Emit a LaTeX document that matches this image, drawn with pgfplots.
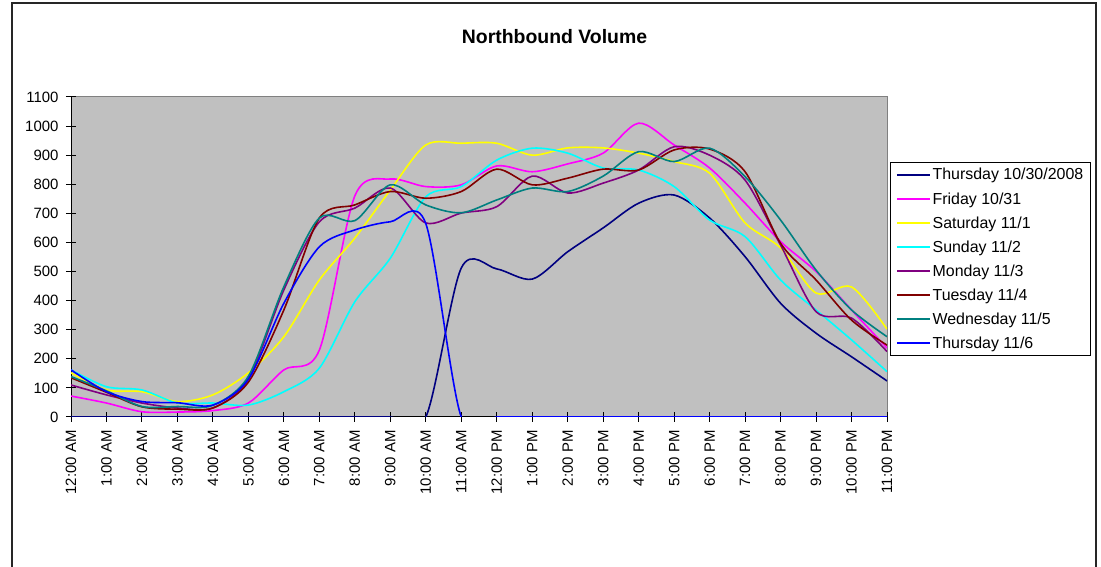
\documentclass[border=0pt]{standalone}
\usepackage{pgfplots}
\pgfplotsset{compat=1.18}
\usepackage{pgfplotstable}
\usepackage{fontspec}
\setmainfont{Liberation Sans}
\definecolor{cNavy}{RGB}{0,0,128}
\definecolor{cMag}{RGB}{255,0,255}
\definecolor{cYel}{RGB}{255,255,0}
\definecolor{cCyan}{RGB}{0,255,255}
\definecolor{cPurp}{RGB}{128,0,128}
\definecolor{cMaroon}{RGB}{128,0,0}
\definecolor{cTeal}{RGB}{0,128,128}
\definecolor{cBlue}{RGB}{0,0,255}
\definecolor{plotgray}{RGB}{192,192,192}
\definecolor{framegray}{RGB}{128,128,128}

\pgfplotstableread{
h  thu  fri  sat  sun  mon  tue  wed  thub
0  0    72   152  162  110  135  139  162
1  0    48   93   104  76   85   90   87
2  0    18   87   93   48   35   36   53
3  0    17   53   48   31   27   36   49
4  0    22   76   48   31   31   40   41
5  0    48   152  41   130  120  140  130
6  0    162  276  87   437  368  448  391
7  0    230  471  168  671  684  684  585
8  0    760  615  396  718  729  675  643
9  0    818  780  546  787  775  798  671
10 0    792  935  757  667  752  729  665
11 512  798  941  792  701  775  702  0
12 509  863  941  883  723  852  746  0
13 474  843  900  924  828  798  787  0
14 568  870  925  907  770  821  775  0
15 650  907  925  856  804  852  828  0
16 735  1010 907  849  849  849  912  0
17 763  935  878  792  929  918  878  0
18 684  856  838  677  900  921  924  0
19 551  735  667  620  814  843  826  0
20 391  603  581  471  591  597  677  0
21 288  500  426  368  362  471  505  0
22 207  368  447  265  340  333  368  0
23 124  237  302  156  225  247  276  0
}\datatable

\begin{document}
\begin{tikzpicture}[x=1bp,y=1bp]
\useasboundingbox (0,0) rectangle (1101,567);
\fill[white] (0,0) rectangle (1101,567);
\draw[line width=1.3bp, black!85] (12,-2) -- (12,564) -- (1096,564) -- (1096,-2);
\node[font=\fontsize{19.5}{23}\selectfont\bfseries] at (554.5,530) {Northbound Volume};
\begin{axis}[
  at={(71bp,150bp)}, anchor=south west,
  scale only axis, width=816bp, height=320bp,
  xmin=0, xmax=23, ymin=0, ymax=1100,
  axis x line=bottom, axis y line=left,
  axis line style={-, black, line width=1bp},
  axis background/.style={fill=plotgray, draw=framegray, line width=1bp},
  xtick={0,...,23},
  xticklabels={12:00 AM,1:00 AM,2:00 AM,3:00 AM,4:00 AM,5:00 AM,6:00 AM,7:00 AM,8:00 AM,9:00 AM,10:00 AM,11:00 AM,12:00 PM,1:00 PM,2:00 PM,3:00 PM,4:00 PM,5:00 PM,6:00 PM,7:00 PM,8:00 PM,9:00 PM,10:00 PM,11:00 PM},
  ytick={0,100,...,1100},
  tick align=center, major tick length=10bp,
  tick style={black, line width=1bp},
  /pgf/number format/1000 sep={},
  /pgf/number format/assume math mode=true,
  ticklabel style={font=\fontsize{15}{18}\selectfont},
  xticklabel style={yshift=-5bp, rotate=90, anchor=east},
  yticklabel style={xshift=-4bp},
  legend style={at={(1.0037,0.797)}, anchor=north west, draw=black, fill=white,
    line width=1bp, font=\fontsize{16}{19}\selectfont, row sep=7bp,
    inner xsep=5.5bp, inner ysep=4bp},
  legend cell align=left,
  legend image code/.code={\draw[#1, line width=1.6bp] (0bp,0bp) -- (33bp,0bp);},
  every axis plot/.append style={line width=1.6bp, smooth, tension=0.5, no markers},
]
\addplot[cNavy] table[x=h, y=thu] {\datatable};
\addlegendentry{Thursday 10/30/2008}
\addplot[cMag] table[x=h, y=fri] {\datatable};
\addlegendentry{Friday 10/31}
\addplot[cYel] table[x=h, y=sat] {\datatable};
\addlegendentry{Saturday 11/1}
\addplot[cCyan] table[x=h, y=sun] {\datatable};
\addlegendentry{Sunday 11/2}
\addplot[cPurp] table[x=h, y=mon] {\datatable};
\addlegendentry{Monday 11/3}
\addplot[cMaroon] table[x=h, y=tue] {\datatable};
\addlegendentry{Tuesday 11/4}
\addplot[cTeal] table[x=h, y=wed] {\datatable};
\addlegendentry{Wednesday 11/5}
\addplot[cBlue] table[x=h, y=thub] {\datatable};
\addlegendentry{Thursday 11/6}
\end{axis}
\end{tikzpicture}
\end{document}
